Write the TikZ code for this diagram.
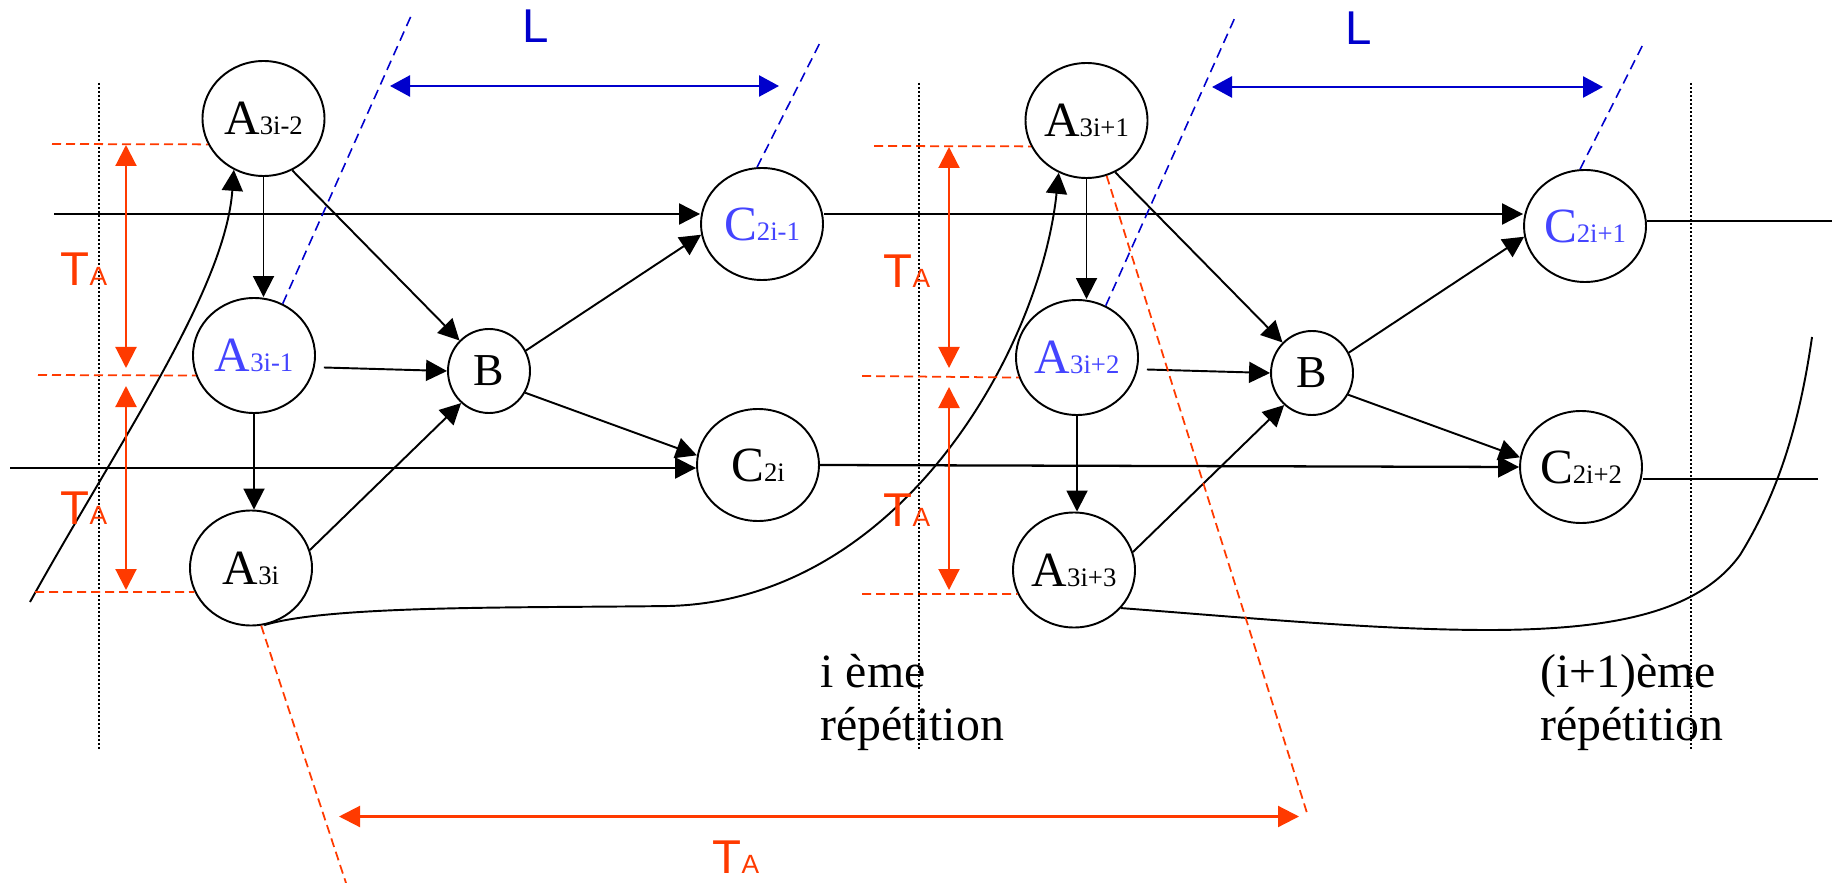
\documentclass[tikz,border=0pt]{standalone}
\usepackage{fontspec}
\setmainfont{Liberation Serif}
\setsansfont{Liberation Sans}
\usetikzlibrary{arrows.meta, shapes.geometric, calc}
\definecolor{perred}{HTML}{FF3A00}
\definecolor{latblue}{HTML}{0000CC}
\definecolor{labblue}{HTML}{4444FF}
\newcommand{\tlab}[2]{{\fontsize{14}{16}\selectfont #1}{\fontsize{7.6}{9}\selectfont #2}}
\newcommand{\talab}{\sffamily{\fontsize{13.5}{15}\selectfont T}{\fontsize{7.5}{9}\selectfont A}}

\begin{document}
\begin{tikzpicture}[x=0.1mm, y=-0.1mm,
  task/.style={draw, ellipse, line width=0.55pt, inner sep=0pt,
               minimum width=12.2mm, minimum height=11.5mm},
  flow/.style={-{Triangle[length=2.1mm, width=2.1mm]}, line width=0.55pt},
  rail/.style={line width=0.65pt},
  guide/.style={perred, line width=0.5pt, dash pattern=on 0.9mm off 0.5mm},
  period/.style={{Triangle[length=2.1mm, width=2.1mm]}-{Triangle[length=2.1mm, width=2.1mm]},
                 perred, line width=0.6pt},
  lat/.style={{Triangle[length=2mm, width=2.1mm]}-{Triangle[length=2mm, width=2.1mm]},
              latblue, line width=0.7pt},
  latguide/.style={latblue, line width=0.45pt, dash pattern=on 1mm off 0.6mm},
  sep/.style={line width=0.35pt, dash pattern=on 0.2mm off 0.2mm},
  redlab/.style={anchor=base west, text=perred, inner sep=0pt},
  bluelab/.style={anchor=base, text=latblue, inner sep=0pt,
                  font=\sffamily\fontsize{13.5}{15}\selectfont},
  reptext/.style={anchor=base west, align=left, inner sep=0pt,
                  font=\fontsize{13.6}{14.8}\selectfont}]
\useasboundingbox (0,0) rectangle (1832,883);

% ---- separators between repetitions --------------------------------------
\draw[sep] (99,83) -- (99,750);
\draw[sep] (919,83) -- (919,750);
\draw[sep] (1691,83) -- (1691,750);

% ---- i-th repetition -------------------------------------------------------
\node[task] (a1) at (263.5,118.5) {\tlab{A}{3i-2}};
\node[task, text=labblue] (a2) at (254,355.5) {\tlab{A}{3i-1}};
\node[task] (a3) at (251,568) {\tlab{A}{3i}};
\node[task, minimum width=8.2mm, minimum height=8.4mm] (b1) at (489,371)
  {\fontsize{13}{15}\selectfont B};
\node[task, minimum height=11.2mm, text=labblue] (c1) at (762,224) {\tlab{C}{2i-1}};
\node[task, minimum height=11.2mm] (c2) at (758,465) {\tlab{C}{2i}};

\draw[flow] (a1.south) -- (a1.south |- a2.north);
\draw[flow] (a2.south) -- (a2.south |- a3.north);
\draw[flow] (a1.299) -- (b1.134);
\draw[flow] (a2.east) ++(8,12) -- (b1.west);
\draw[flow] (a3.17) -- (b1.229);
\draw[flow] (b1.29) -- (c1.190);
\draw[flow] (b1.329) -- (c2.171);

% ---- (i+1)-th repetition ---------------------------------------------------
\node[task] (a4) at (1086.5,120.5) {\tlab{A}{3i+1}};
\node[task, text=labblue] (a5) at (1077,357.5) {\tlab{A}{3i+2}};
\node[task] (a6) at (1074,570) {\tlab{A}{3i+3}};
\node[task, minimum width=8.2mm, minimum height=8.4mm] (b2) at (1312,373)
  {\fontsize{13}{15}\selectfont B};
\node[task, minimum height=11.2mm, text=labblue] (c3) at (1585,226) {\tlab{C}{2i+1}};
\node[task, minimum height=11.2mm] (c4) at (1581,467) {\tlab{C}{2i+2}};

\draw[flow] (a4.south) -- (a4.south |- a5.north);
\draw[flow] (a5.south) -- (a5.south |- a6.north);
\draw[flow] (a4.299) -- (b2.134);
\draw[flow] (a5.east) ++(8,12) -- (b2.west);
\draw[flow] (a6.17) -- (b2.229);
\draw[flow] (b2.29) -- (c3.190);
\draw[flow] (b2.329) -- (c4.171);

% ---- C chains ---------------------------------------------------------------
\coordinate (in1) at (54,214);
\coordinate (in2) at (10,468);
\coordinate (out1) at (1832,221);
\coordinate (out2) at (1818,479);
\draw[flow, rail] (in1) -- (in1 -| c1.west);
\draw[flow, rail] (c1.east |- in1) -- (c3.west |- in1);
\draw[rail] (out1 -| c3.east) -- (out1);
\draw[flow, rail] (in2) -- (in2 -| c2.west);
\draw[flow, rail] (c2.east) -- (c4.west);
\draw[rail] (out2 -| c4.east) -- (out2);

% ---- loops between repetitions -------------------------------------------
\coordinate (src1) at (30,602);
\coordinate (snk1) at (1812,337);
\draw[flow] (src1) .. controls (120,440) and (225,290) .. (a1.240);
\draw[flow] (a3.283) .. controls (330,605) and (520,608) .. (669,606)
  .. controls (900,600) and (1040,350) .. (a4.242);
\draw[line width=0.55pt] (a6.321) .. controls (1250,618) and (1380,630) .. (1488,630)
  .. controls (1620,630) and (1700,610) .. (1740,555)
  .. controls (1780,490) and (1800,420) .. (snk1);

% ---- period T_A ------------------------------------------------------------
\draw[guide] (52,144) -- (a1.205);
\draw[guide] (38,375) -- (a2.199);
\draw[guide] (35,592) -- (a3.203);
\draw[period] (126,145) -- (126,368);
\draw[period] (126,386) -- (126,590);
\node[redlab] (ta1) at (60,286) {\talab};
\node[redlab] (ta2) at (60,524) {\talab};

\draw[guide] (874,146) -- (a4.205);
\draw[guide] (862,376) -- (a5.199);
\draw[guide] (862,594) -- (a6.203);
\draw[period] (949,147) -- (949,368);
\draw[period] (949,387) -- (949,590);
\node[redlab] (ta3) at (883,288) {\talab};
\node[redlab] (ta4) at (883,526) {\talab};

\coordinate (rp1) at (346,883);
\coordinate (rp2) at (1307,813);
\draw[guide] (a3.280) -- (rp1);
\draw[guide] (a4.290) -- (rp2);
\draw[period] (339,816.5) -- (1299,816.5);
\node[redlab] (ta5) at (712,873) {\talab};

% ---- latency L ---------------------------------------------------------------
\draw[latguide] (a2.61) -- (410.7,16.7);
\draw[latguide] (c1.95) -- (820,42.7);
\draw[lat] (390,86) -- (779,86);
\node[bluelab] (l1) at (536,43) {L};

\draw[latguide] (a5.61) -- (1234.6,18.3);
\draw[latguide] (c3.95) -- (1643,44.3);
\draw[lat] (1212,87) -- (1603,87);
\node[bluelab] (l2) at (1359,45) {L};

% ---- captions ----------------------------------------------------------------
\node[reptext] (rep1) at (820,740) {i ème\\répétition};
\node[reptext] (rep2) at (1539.5,740) {(i+1)ème\\répétition};
\end{tikzpicture}
\end{document}
